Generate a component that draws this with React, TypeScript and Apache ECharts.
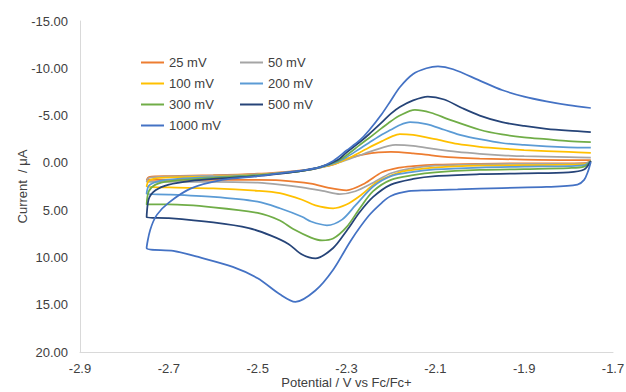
import React, { useEffect, useRef } from "react";
import * as echarts from "echarts";

type Pt = [number, number];

const seriesNames = ["25 mV", "50 mV", "100 mV", "200 mV", "300 mV", "500 mV", "1000 mV"];
const seriesColors = ["#ED7D31", "#A5A5A5", "#FFC000", "#5B9BD5", "#70AD47", "#264478", "#4472C4"];
const legendCol1 = ["25 mV", "100 mV", "300 mV", "1000 mV"];
const legendCol2 = ["50 mV", "200 mV", "500 mV"];
const xTicks = [-2.9, -2.7, -2.5, -2.3, -2.1, -1.9, -1.7];

const cv25: Pt[] = [
  [-1.75, -0.2], [-1.76, 0.0], [-1.8, 0.05], [-1.9, 0.05], [-2.0, 0.1], [-2.1, 0.2], [-2.15, 0.35],
  [-2.18, 0.5], [-2.22, 1.0], [-2.26, 2.2], [-2.3, 2.9], [-2.34, 2.65], [-2.38, 2.2], [-2.45, 1.85],
  [-2.5, 1.8], [-2.6, 1.8], [-2.7, 1.8], [-2.75, 1.8],
  [-2.745, 1.5], [-2.7, 1.4], [-2.6, 1.3], [-2.5, 1.15], [-2.45, 1.0], [-2.4, 0.8], [-2.36, 0.5],
  [-2.33, 0.2], [-2.3, -0.4], [-2.26, -0.9], [-2.2, -1.15], [-2.15, -1.0], [-2.1, -0.75], [-2.05, -0.55],
  [-2.0, -0.45], [-1.9, -0.35], [-1.8, -0.3], [-1.75, -0.3],
];

const cv50: Pt[] = [
  [-1.75, -0.2], [-1.76, 0.05], [-1.8, 0.1], [-1.9, 0.1], [-2.0, 0.15], [-2.1, 0.3], [-2.15, 0.55],
  [-2.2, 1.1], [-2.24, 2.1], [-2.28, 3.0], [-2.315, 3.3], [-2.35, 3.0], [-2.4, 2.6], [-2.45, 2.3],
  [-2.5, 2.1], [-2.6, 2.0], [-2.7, 2.0], [-2.75, 2.0],
  [-2.745, 1.6], [-2.7, 1.45], [-2.6, 1.35], [-2.5, 1.2], [-2.45, 1.05], [-2.4, 0.85], [-2.36, 0.5],
  [-2.33, 0.15], [-2.3, -0.3], [-2.27, -0.8], [-2.24, -1.3], [-2.19, -1.9], [-2.15, -1.8], [-2.1, -1.45],
  [-2.05, -1.15], [-2.0, -0.95], [-1.95, -0.8], [-1.9, -0.7], [-1.8, -0.6], [-1.75, -0.55],
];

const cv100: Pt[] = [
  [-1.75, -0.2], [-1.76, 0.1], [-1.8, 0.2], [-1.9, 0.25], [-2.0, 0.3], [-2.1, 0.5], [-2.15, 0.75],
  [-2.18, 1.0], [-2.23, 2.0], [-2.27, 3.5], [-2.3, 4.4], [-2.33, 4.8], [-2.37, 4.5], [-2.4, 3.9],
  [-2.45, 3.2], [-2.5, 2.95], [-2.6, 2.7], [-2.7, 2.6], [-2.75, 2.5],
  [-2.745, 1.9], [-2.72, 1.6], [-2.6, 1.45], [-2.5, 1.25], [-2.45, 1.1], [-2.4, 0.85], [-2.36, 0.5],
  [-2.32, 0.0], [-2.3, -0.4], [-2.27, -1.1], [-2.25, -1.6], [-2.22, -2.3], [-2.2, -2.75], [-2.18, -3.05],
  [-2.15, -2.95], [-2.1, -2.5], [-2.05, -2.0], [-2.0, -1.7], [-1.95, -1.5], [-1.9, -1.35], [-1.8, -1.15],
  [-1.75, -1.05],
];

const cv200: Pt[] = [
  [-1.75, -0.2], [-1.765, 0.25], [-1.8, 0.35], [-1.9, 0.4], [-2.0, 0.5], [-2.1, 0.7], [-2.15, 0.95],
  [-2.2, 1.4], [-2.24, 2.5], [-2.28, 4.5], [-2.31, 6.0], [-2.344, 6.6], [-2.38, 6.2], [-2.4, 5.7],
  [-2.45, 4.8], [-2.5, 4.1], [-2.6, 3.6], [-2.7, 3.35], [-2.75, 3.3],
  [-2.745, 2.4], [-2.72, 1.9], [-2.68, 1.7], [-2.6, 1.5], [-2.5, 1.3], [-2.45, 1.1], [-2.4, 0.85],
  [-2.36, 0.5], [-2.32, -0.1], [-2.3, -0.6], [-2.27, -1.5], [-2.25, -2.1], [-2.22, -3.0], [-2.2, -3.5],
  [-2.18, -4.0], [-2.157, -4.3], [-2.12, -4.1], [-2.08, -3.5], [-2.04, -2.9], [-2.0, -2.5], [-1.95, -2.1],
  [-1.9, -1.9], [-1.85, -1.75], [-1.8, -1.65], [-1.75, -1.6],
];

const cv300: Pt[] = [
  [-1.75, -0.2], [-1.765, 0.4], [-1.8, 0.55], [-1.9, 0.65], [-2.0, 0.75], [-2.1, 1.0], [-2.15, 1.3],
  [-2.2, 1.8], [-2.24, 3.0], [-2.27, 4.8], [-2.3, 6.8], [-2.33, 8.0], [-2.355, 8.2], [-2.38, 7.9],
  [-2.42, 7.0], [-2.45, 6.1], [-2.5, 5.3], [-2.6, 4.7], [-2.7, 4.4], [-2.75, 4.4],
  [-2.745, 3.0], [-2.73, 2.3], [-2.7, 1.95], [-2.6, 1.6], [-2.5, 1.3], [-2.45, 1.1], [-2.4, 0.85],
  [-2.36, 0.45], [-2.32, -0.2], [-2.3, -0.8], [-2.27, -1.9], [-2.25, -2.6], [-2.22, -3.7], [-2.2, -4.4],
  [-2.18, -5.0], [-2.146, -5.6], [-2.11, -5.3], [-2.07, -4.6], [-2.0, -3.5], [-1.95, -3.0], [-1.9, -2.7],
  [-1.85, -2.5], [-1.8, -2.3], [-1.75, -2.2],
];

const cv500: Pt[] = [
  [-1.75, -0.2], [-1.765, 0.7], [-1.8, 1.0], [-1.9, 1.1], [-2.0, 1.2], [-2.1, 1.4], [-2.15, 1.7],
  [-2.2, 2.3], [-2.24, 3.6], [-2.27, 5.2], [-2.3, 7.2], [-2.33, 9.0], [-2.37, 10.1], [-2.4, 9.7],
  [-2.43, 8.6], [-2.47, 7.7], [-2.52, 6.9], [-2.6, 6.3], [-2.7, 5.85], [-2.75, 5.75],
  [-2.745, 3.8], [-2.73, 2.9], [-2.7, 2.3], [-2.65, 1.9], [-2.6, 1.7], [-2.5, 1.4], [-2.45, 1.15],
  [-2.4, 0.85], [-2.36, 0.45], [-2.32, -0.3], [-2.3, -1.1], [-2.27, -2.2], [-2.25, -3.0], [-2.22, -4.3],
  [-2.2, -5.2], [-2.18, -5.9], [-2.15, -6.6], [-2.117, -7.0], [-2.08, -6.7], [-2.04, -5.8], [-2.0, -5.0],
  [-1.95, -4.3], [-1.9, -3.9], [-1.85, -3.6], [-1.8, -3.4], [-1.75, -3.25],
];

const cv1000: Pt[] = [
  [-1.75, -0.1], [-1.757, 1.0], [-1.765, 1.8], [-1.78, 2.3], [-1.85, 2.55], [-1.95, 2.66], [-2.05, 2.8],
  [-2.12, 2.9], [-2.16, 3.0], [-2.2, 3.5], [-2.22, 4.2], [-2.25, 5.6], [-2.29, 8.2], [-2.33, 11.3],
  [-2.37, 13.5], [-2.415, 14.7], [-2.45, 13.9], [-2.5, 12.2], [-2.556, 11.0], [-2.63, 10.0], [-2.69, 9.3],
  [-2.75, 9.0],
  [-2.742, 7.1], [-2.727, 5.5], [-2.7, 4.2], [-2.65, 2.7], [-2.58, 1.8], [-2.5, 1.4], [-2.45, 1.1],
  [-2.4, 0.8], [-2.36, 0.45], [-2.33, -0.2], [-2.3, -1.3], [-2.27, -2.4], [-2.25, -3.4], [-2.22, -5.2],
  [-2.2, -6.6], [-2.18, -8.0], [-2.15, -9.4], [-2.12, -10.0], [-2.094, -10.2], [-2.06, -9.9], [-2.0, -8.7],
  [-1.95, -7.7], [-1.9, -7.0], [-1.85, -6.5], [-1.8, -6.1], [-1.75, -5.8],
];

const seriesData: Pt[][] = [cv25, cv50, cv100, cv200, cv300, cv500, cv1000];

const FONT = "'Liberation Sans', Arial, sans-serif";

export default function App() {
  const ref = useRef<HTMLDivElement>(null);
  useEffect(() => {
    if (!ref.current) return;
    const chart = echarts.init(ref.current, undefined, { renderer: "svg" });
    const legendBase = {
      orient: "vertical" as const,
      icon: "rect",
      itemWidth: 23,
      itemHeight: 2,
      itemGap: 0,
      textStyle: { fontFamily: FONT, fontSize: 13, color: "#404040", lineHeight: 21 },
    };
    chart.setOption({
      animation: false,
      backgroundColor: "#ffffff",
      textStyle: { fontFamily: FONT },
      grid: { left: 80, right: 13, top: 21, bottom: 40, containLabel: false, outerBoundsMode: "none" },
      legend: [
        { ...legendBase, data: legendCol1, left: 136, top: 47 },
        { ...legendBase, data: legendCol2, left: 235, top: 47 },
      ],
      xAxis: {
        type: "value",
        min: -2.9,
        max: -1.7,
        name: "Potential / V vs Fc/Fc+",
        nameLocation: "middle",
        nameGap: 23,
        nameMoveOverlap: false,
        nameTextStyle: { fontFamily: FONT, fontSize: 13, lineHeight: 14, color: "#404040" },
        axisLine: { show: true, onZero: false, lineStyle: { color: "#D9D9D9", width: 1 } },
        axisTick: { show: false },
        splitLine: { show: false },
        axisLabel: {
          customValues: xTicks,
          margin: 10,
          fontFamily: FONT,
          fontSize: 13,
          color: "#404040",
          formatter: (v: number) => v.toFixed(1),
        },
      },
      yAxis: {
        type: "value",
        inverse: true,
        min: -15,
        max: 20,
        interval: 5,
        name: "Current  / μA",
        nameLocation: "middle",
        nameGap: 51,
        nameMoveOverlap: false,
        nameTextStyle: { fontFamily: FONT, fontSize: 13, color: "#404040" },
        axisLine: { show: true, onZero: false, lineStyle: { color: "#D9D9D9", width: 1 } },
        axisTick: { show: false },
        splitLine: { show: false },
        axisLabel: {
          margin: 12,
          fontFamily: FONT,
          fontSize: 13,
          color: "#404040",
          formatter: (v: number) => v.toFixed(2),
        },
      },
      series: seriesNames.map((name, i) => ({
        name,
        type: "line",
        data: seriesData[i],
        smooth: 0.3,
        showSymbol: false,
        symbol: "none",
        color: seriesColors[i],
        lineStyle: { color: seriesColors[i], width: 1.75 },
      })),
    });
    return () => chart.dispose();
  }, []);
  return (
    <div style={{ position: "fixed", left: 0, top: 0, width: 626, height: 392, background: "#fff" }}>
      <div ref={ref} style={{ width: 626, height: 392 }} />
    </div>
  );
}
